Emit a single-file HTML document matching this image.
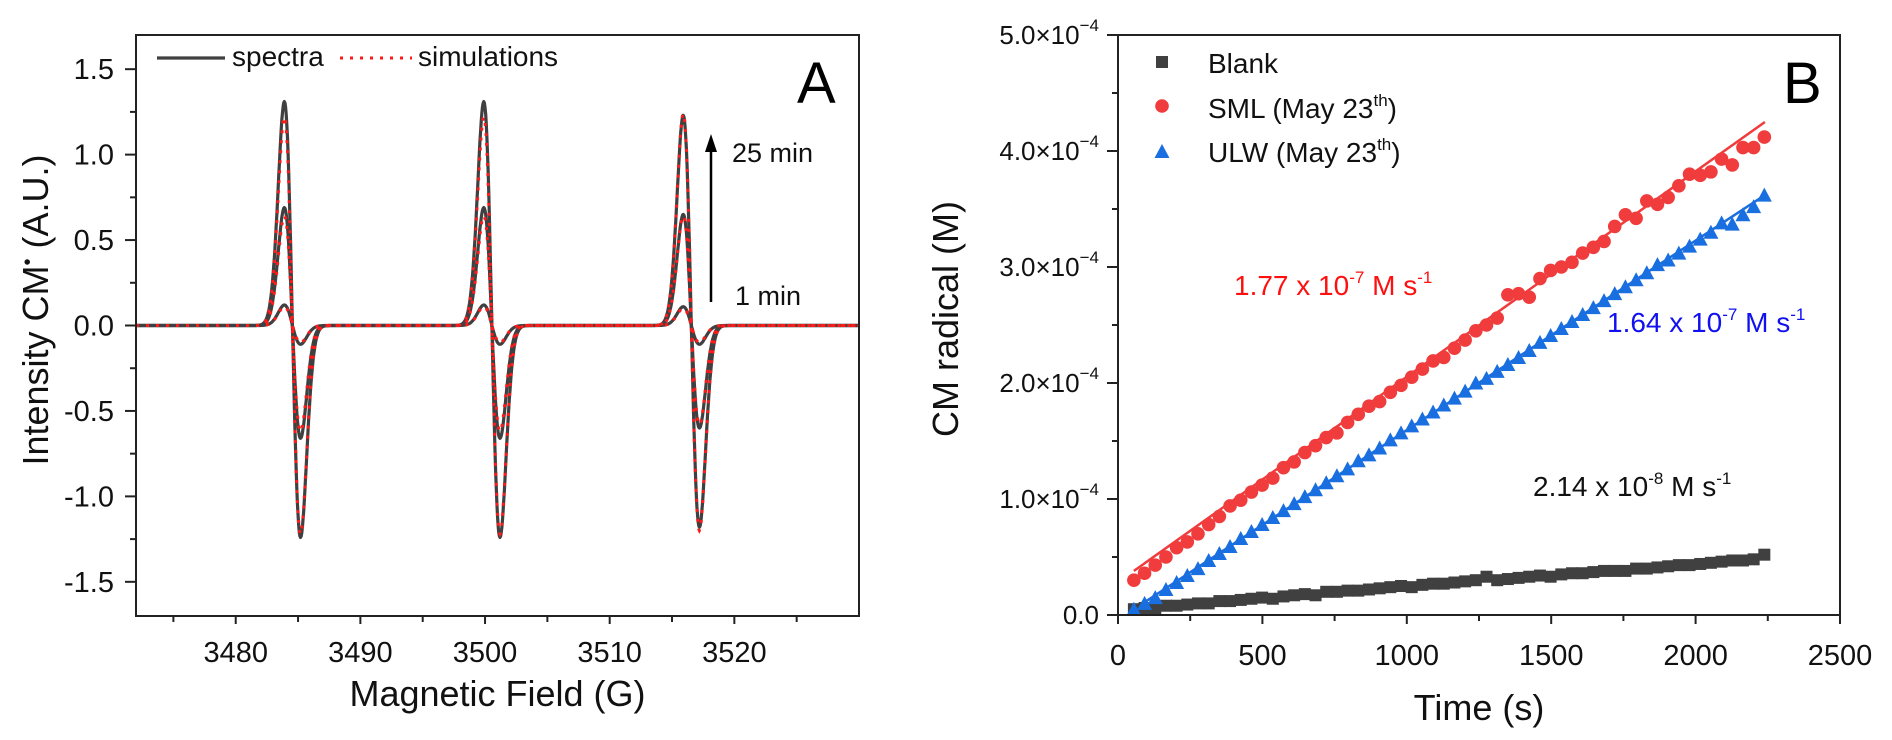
<!DOCTYPE html>
<html><head><meta charset="utf-8"><style>
html,body{margin:0;padding:0;background:#fff;}
svg{display:block;font-family:"Liberation Sans",Arial,sans-serif;}
</style></head><body>
<svg id="chart" width="1892" height="740" viewBox="0 0 1892 740" xmlns="http://www.w3.org/2000/svg">
<g id="panelA"></g>
<g id="panelB"></g>
</svg>
<script>
// ---------- Panel A data ----------
const fieldRange = [3472, 3530];
const intensityRange = [-1.7, 1.7];
const lineCenters = [3484.55, 3500.55, 3516.55];
const lineWidth = 0.65;
const spectrumPeaks = [[0.12,0.12,0.11],[0.69,0.69,0.65],[1.31,1.31,1.23]];
const spectrumTroughs = [[0.11,0.11,0.11],[0.66,0.66,0.60],[1.24,1.24,1.18]];
const simulationPeaks = [[0.11,0.11,0.10],[0.64,0.64,0.64],[1.22,1.22,1.24]];
const simulationTroughs = [[0.10,0.10,0.10],[0.62,0.62,0.58],[1.22,1.22,1.20]];
const aTicksY = [-1.5,-1.0,-0.5,0.0,0.5,1.0,1.5];
const aTickLabelsY = ["-1.5","-1.0","-0.5","0.0","0.5","1.0","1.5"];
const aTicksX = [3480,3490,3500,3510,3520];
const aTickLabelsX = ["3480","3490","3500","3510","3520"];

// ---------- Panel B data ----------
const times = [55,92,129,166,203,240,277,314,351,388,425,462,499,536,573,610,647,684,721,758,795,832,869,906,943,980,1017,1054,1091,1128,1165,1202,1239,1276,1313,1350,1387,1424,1461,1498,1535,1572,1609,1646,1683,1720,1757,1794,1831,1868,1905,1942,1979,2016,2053,2090,2127,2164,2201,2238];
const smlValues = [0.30,0.36,0.43,0.50,0.58,0.63,0.70,0.78,0.85,0.94,0.99,1.06,1.12,1.18,1.27,1.32,1.40,1.46,1.53,1.57,1.66,1.73,1.80,1.84,1.92,1.98,2.05,2.12,2.19,2.22,2.30,2.37,2.45,2.50,2.56,2.76,2.77,2.74,2.90,2.97,3.00,3.04,3.12,3.17,3.22,3.35,3.45,3.42,3.57,3.54,3.60,3.70,3.80,3.79,3.82,3.93,3.88,4.03,4.03,4.12];
const ulwValues = [0.05,0.10,0.15,0.22,0.28,0.34,0.40,0.47,0.53,0.59,0.66,0.72,0.78,0.84,0.90,0.96,1.02,1.08,1.14,1.20,1.26,1.33,1.38,1.44,1.51,1.57,1.63,1.69,1.75,1.81,1.87,1.93,2.00,2.04,2.10,2.16,2.22,2.28,2.35,2.41,2.47,2.53,2.59,2.65,2.71,2.77,2.83,2.89,2.95,3.02,3.06,3.12,3.18,3.24,3.30,3.38,3.37,3.45,3.52,3.62];
const blankValues = [0.05,0.06,0.06,0.08,0.08,0.09,0.10,0.10,0.12,0.12,0.13,0.14,0.15,0.14,0.16,0.17,0.18,0.17,0.20,0.20,0.21,0.21,0.22,0.23,0.24,0.25,0.24,0.26,0.27,0.27,0.28,0.29,0.30,0.33,0.30,0.31,0.32,0.33,0.34,0.33,0.35,0.36,0.36,0.37,0.38,0.38,0.38,0.40,0.40,0.41,0.42,0.43,0.43,0.44,0.45,0.46,0.47,0.47,0.48,0.52];
const smlFit = [55, 0.38, 2240, 4.25];
const ulwFit = [55, 0.05, 2240, 3.62];
const bTicksX = [0,500,1000,1500,2000,2500];
const bTickLabelsX = ["0","500","1000","1500","2000","2500"];
const bTicksY = [0,1,2,3,4,5];
const bTickLabelsY = ["0.0","1.0×10","2.0×10","3.0×10","4.0×10","5.0×10"];

const NS = "http://www.w3.org/2000/svg";
function mk(parent, tag, attrs, text){
  const e = document.createElementNS(NS, tag);
  for (const k in attrs) e.setAttribute(k, attrs[k]);
  if (text !== undefined) e.textContent = text;
  parent.appendChild(e);
  return e;
}

// ================= PANEL A =================
const A = document.getElementById('panelA');
const aL=136, aR=859, aT=35, aB=616;
const ax = v => aL + (v - fieldRange[0])/(fieldRange[1]-fieldRange[0])*(aR-aL);
const ay = v => aB - (v - intensityRange[0])/(intensityRange[1]-intensityRange[0])*(aB-aT);

function derivShape(B, peaks, troughs){
  let s = 0;
  for (let k=0;k<lineCenters.length;k++){
    const u = (B - lineCenters[k])/lineWidth;
    const amp = u < 0 ? peaks[k] : troughs[k];
    s += -amp * u * Math.exp(0.5 - u*u/2);
  }
  return s;
}
function specPath(peaks, troughs){
  let d = "";
  for (let B = fieldRange[0]; B <= fieldRange[1]; B += 0.05){
    d += (d ? "L" : "M") + ax(B).toFixed(1) + "," + ay(derivShape(B, peaks, troughs)).toFixed(1);
  }
  return d;
}
const clipA = mk(A,'clipPath',{id:'clipA'}); mk(clipA,'rect',{x:aL,y:aT,width:aR-aL,height:aB-aT});
const specG = mk(A,'g',{'clip-path':'url(#clipA)'});


spectrumPeaks.forEach((p,i)=>{
  const e = mk(specG,'path',{d:specPath(p, spectrumTroughs[i]),fill:'none',stroke:'#404040','stroke-width':3.2,'stroke-linejoin':'round'});
  
  
});
simulationPeaks.forEach((p,i)=>{
  const e = mk(specG,'path',{d:specPath(p, simulationTroughs[i]),fill:'none',stroke:'#ff1a1a','stroke-width':3,'stroke-dasharray':'3 7'});
  
  
});
const frA = mk(A,'rect',{x:aL,y:aT,width:aR-aL,height:aB-aT,fill:'none',stroke:'#222','stroke-width':2});


const aYAxis = mk(A,'g',{});


aTicksY.forEach((v,i)=>{
  mk(aYAxis,'line',{x1:aL-11,x2:aL,y1:ay(v),y2:ay(v),stroke:'#222','stroke-width':2});
  const t = mk(aYAxis,'text',{x:aL-22,y:ay(v)+10,'text-anchor':'end','font-size':29,fill:'#111'},aTickLabelsY[i]);
  
  
  if (i < aTicksY.length-1){
    const m=(v+aTicksY[i+1])/2;
    mk(aYAxis,'line',{x1:aL-6,x2:aL,y1:ay(m),y2:ay(m),stroke:'#222','stroke-width':2});
  }
});
const aXAxis = mk(A,'g',{});


aTicksX.forEach((v,i)=>{
  mk(aXAxis,'line',{x1:ax(v),x2:ax(v),y1:aB,y2:aB+8,stroke:'#222','stroke-width':2});
  const t = mk(aXAxis,'text',{x:ax(v),y:662,'text-anchor':'middle','font-size':29,fill:'#111'},aTickLabelsX[i]);
  
  
});
for (let v=3475; v<3530; v+=10){
  mk(aXAxis,'line',{x1:ax(v),x2:ax(v),y1:aB,y2:aB+6,stroke:'#222','stroke-width':2});
}
const axt = mk(A,'text',{x:(aL+aR)/2,y:706,'text-anchor':'middle','font-size':36,fill:'#111'},'Magnetic Field (G)');


const ayt = mk(A,'text',{x:0,y:0,transform:'translate(48,310) rotate(-90)','text-anchor':'middle','font-size':36,fill:'#111'});
ayt.innerHTML = 'Intensity CM<tspan font-size="20" dy="-14">•</tspan><tspan dy="14"> (A.U.)</tspan>';


const legA = mk(A,'g',{});


mk(legA,'line',{x1:157,x2:225,y1:58,y2:58,stroke:'#404040','stroke-width':3.2});
mk(legA,'text',{x:232,y:66,'font-size':28,fill:'#111'},'spectra');
mk(legA,'line',{x1:340,x2:412,y1:58,y2:58,stroke:'#ff1a1a','stroke-width':3,'stroke-dasharray':'3 7'});
mk(legA,'text',{x:418,y:66,'font-size':28,fill:'#111'},'simulations');
const la = mk(A,'text',{x:797,y:103,'font-size':58,fill:'#000'},'A');


const arr = mk(A,'g',{});


mk(arr,'line',{x1:711,x2:711,y1:302,y2:148,stroke:'#000','stroke-width':2.5});
mk(arr,'polygon',{points:'705,152 717,152 711,134',fill:'#000'});
mk(arr,'text',{x:732,y:162,'font-size':27,fill:'#111'},'25 min');
mk(arr,'text',{x:735,y:305,'font-size':27,fill:'#111'},'1 min');

// ================= PANEL B =================
const Bp = document.getElementById('panelB');
const bL=1118, bR=1840, bT=35, bB=615;
const bx = v => bL + v/2500*(bR-bL);
const by = v => bB - v/5*(bB-bT);

const fitR = mk(Bp,'line',{x1:bx(smlFit[0]),y1:by(smlFit[1]),x2:bx(smlFit[2]),y2:by(smlFit[3]),stroke:'#f03c3c','stroke-width':2.5});


const fitB = mk(Bp,'line',{x1:bx(ulwFit[0]),y1:by(ulwFit[1]),x2:bx(ulwFit[2]),y2:by(ulwFit[3]),stroke:'#1a6fe0','stroke-width':2.5});



const gBlank = mk(Bp,'g',{fill:'#404040'});


times.forEach((t,i)=>{
  const e = mk(gBlank,'rect',{x:bx(t)-6,y:by(blankValues[i])-6,width:12,height:12});
  
  
});
const gSml = mk(Bp,'g',{fill:'#f03c3c'});


times.forEach((t,i)=>{
  const e = mk(gSml,'circle',{cx:bx(t),cy:by(smlValues[i]),r:6.8});
  
  
});
const gUlw = mk(Bp,'g',{fill:'#1a6fe0'});


times.forEach((t,i)=>{
  const x=bx(t), y=by(ulwValues[i]);
  const e = mk(gUlw,'polygon',{points:`${x-7.5},${y+6.5} ${x+7.5},${y+6.5} ${x},${y-7.5}`});
  
  
});
const frB = mk(Bp,'rect',{x:bL,y:bT,width:bR-bL,height:bB-bT,fill:'none',stroke:'#222','stroke-width':2});



const bYAxis = mk(Bp,'g',{});


bTicksY.forEach((v,i)=>{
  mk(bYAxis,'line',{x1:bL-11,x2:bL,y1:by(v),y2:by(v),stroke:'#222','stroke-width':2});
  const t = mk(bYAxis,'text',{x:bL-19,y:by(v)+9,'text-anchor':'end','font-size':26,fill:'#111'});
  if (i===0) t.textContent = bTickLabelsY[i];
  else t.innerHTML = bTickLabelsY[i] + '<tspan font-size="17" dy="-13">−4</tspan>';
  
  
  if (i < bTicksY.length-1){
    mk(bYAxis,'line',{x1:bL-6,x2:bL,y1:by(v+0.5),y2:by(v+0.5),stroke:'#222','stroke-width':2});
  }
});
const bXAxis = mk(Bp,'g',{});


bTicksX.forEach((v,i)=>{
  mk(bXAxis,'line',{x1:bx(v),x2:bx(v),y1:bB,y2:bB+9,stroke:'#222','stroke-width':2});
  const t = mk(bXAxis,'text',{x:bx(v),y:665,'text-anchor':'middle','font-size':29,fill:'#111'},bTickLabelsX[i]);
  
  
  if (i < bTicksX.length-1) mk(bXAxis,'line',{x1:bx(v+250),x2:bx(v+250),y1:bB,y2:bB+6,stroke:'#222','stroke-width':2});
});
const bxt = mk(Bp,'text',{x:(bL+bR)/2,y:720,'text-anchor':'middle','font-size':36,fill:'#111'},'Time (s)');


const byt = mk(Bp,'text',{x:0,y:0,transform:'translate(958,319) rotate(-90)','text-anchor':'middle','font-size':36,fill:'#111'},'CM radical (M)');



const legB = mk(Bp,'g',{});


mk(legB,'rect',{x:1156,y:56,width:12,height:12,fill:'#404040'});
mk(legB,'circle',{cx:1162,cy:106,r:6.8,fill:'#f03c3c'});
mk(legB,'polygon',{points:'1154.5,158 1169.5,158 1162,144',fill:'#1a6fe0'});
mk(legB,'text',{x:1208,y:73,'font-size':28,fill:'#111'},'Blank');
mk(legB,'text',{x:1208,y:118,'font-size':28,fill:'#111'}).innerHTML='SML (May 23<tspan font-size="17" dy="-12">th</tspan><tspan dy="12">)</tspan>';
mk(legB,'text',{x:1208,y:162,'font-size':28,fill:'#111'}).innerHTML='ULW (May 23<tspan font-size="17" dy="-12">th</tspan><tspan dy="12">)</tspan>';

const lb = mk(Bp,'text',{x:1783,y:103,'font-size':58,fill:'#000'},'B');



function rateLabel(x,y,color,mant,exp,name){
  const t = mk(Bp,'text',{x:x,y:y,'font-size':28,fill:color});
  t.innerHTML = mant+' x 10<tspan font-size="17" dy="-12">'+exp+'</tspan><tspan dy="12"> M s</tspan><tspan font-size="17" dy="-12">-1</tspan>';
  
  
}
rateLabel(1234,295,'#ff1010','1.77','-7','sml-rate-label');
rateLabel(1607,332,'#1010f0','1.64','-7','ulw-rate-label');
rateLabel(1533,496,'#111','2.14','-8','blank-rate-label');
</script>
</body></html>
